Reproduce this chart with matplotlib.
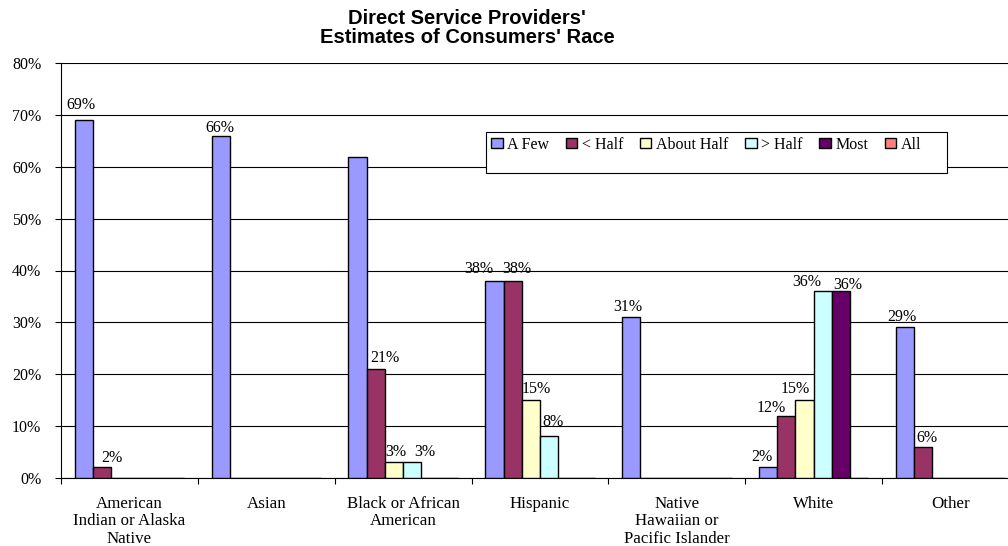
import numpy as np
import matplotlib
matplotlib.use("Agg")
import matplotlib.pyplot as plt
from matplotlib.patches import Rectangle, Patch
from matplotlib.ticker import FixedLocator, PercentFormatter

# ---- data -------------------------------------------------------------------
categories = ["American\nIndian or Alaska\nNative", "Asian", "Black or African\nAmerican",
              "Hispanic", "Native\nHawaiian or\nPacific Islander", "White", "Other"]
series = ["A Few", "< Half", "About Half", "> Half", "Most", "All"]

a_few      = [69, 66, 62, 38, 31, 2, 29]
lt_half    = [2, 0, 21, 38, 0, 12, 6]
about_half = [0, 0, 3, 15, 0, 15, 0]
gt_half    = [0, 0, 3, 8, 0, 36, 0]
most       = [0, 0, 0, 0, 0, 36, 0]
all_       = [0, 0, 0, 0, 0, 0, 0]
values = [a_few, lt_half, about_half, gt_half, most, all_]

colors = ["#9999FF", "#993366", "#FFFFCC", "#CCFFFF", "#660066", "#FF8080"]

# labels that are left off the chart
hidden = {(2, 0)}
# (dx, gap) in pixels for individual value labels, default (0, 6)
label_nudge = {
    (0, 0): (-3, 11), (0, 1): (10, 5), (1, 0): (-1, 4),
    (2, 1): (9, 7), (2, 2): (2, 6), (2, 3): (13, 6),
    (3, 0): (-16, 8), (3, 1): (4, 8), (3, 2): (5, 7), (3, 3): (4, 10),
    (4, 0): (-3, 6),
    (5, 0): (-6, 6), (5, 1): (-15, 4), (5, 2): (-9, 7), (5, 3): (-16, 5), (5, 4): (7, 2),
    (6, 0): (-3, 6), (6, 1): (4, 5),
}

# ---- figure -----------------------------------------------------------------
serif = ["Liberation Serif", "DejaVu Serif"]
plt.rcParams["font.family"] = serif
W, H = 1008, 546
fig = plt.figure(figsize=(W / 100, H / 100), dpi=100)
x0, x1, y0, y1 = 61, 1019, 477.7, 63.3
ax = fig.add_axes([x0 / W, 1 - y0 / H, (x1 - x0) / W, (y0 - y1) / H])

n = len(series)
bw = 0.8 / n
xs = np.arange(len(categories))
for j, (name, vals, c) in enumerate(zip(series, values, colors)):
    pos = xs - 0.4 + (j + 0.5) * bw
    ax.bar(pos, vals, width=bw, color=c, edgecolor="black", linewidth=1.0,
           zorder=3, label=name)
    for i, v in enumerate(vals):
        if v <= 0 or (i, j) in hidden:
            continue
        dx, gap = label_nudge.get((i, j), (0, 6))
        ax.annotate(f"{v}%", (pos[i], v), xytext=(dx * 0.72, gap * 0.72),
                    textcoords="offset points", ha="center", va="baseline",
                    fontsize=11.5, zorder=4)

ax.set_xlim(-0.5, len(categories) - 0.5)
ax.set_ylim(0, 80)
ax.yaxis.set_major_locator(FixedLocator(np.arange(0, 81, 10)))
ax.yaxis.set_major_formatter(PercentFormatter(decimals=0))
ax.grid(axis="y", color="black", linewidth=0.8, zorder=0)
ax.set_axisbelow(True)

ax.set_xticks(xs)
ax.set_xticklabels(categories, fontsize=12.2, linespacing=1.12)
ax.tick_params(axis="x", which="major", length=0, pad=13)
ax.set_xticks(np.arange(-0.5, len(categories), 1), minor=True)
ax.tick_params(axis="x", which="minor", length=4, width=0.8, direction="out")
ax.tick_params(axis="y", length=4.3, width=0.8, pad=10, labelsize=11.5)

for s in ["top", "right"]:
    ax.spines[s].set_visible(False)
ax.spines["left"].set_linewidth(0.8)
ax.spines["bottom"].set_linewidth(0.8)

# ---- legend -----------------------------------------------------------------
fig.patches.append(Rectangle((486 / W, 1 - 173 / H), (947 - 486) / W, (173 - 132) / H,
                             transform=fig.transFigure, facecolor="white",
                             edgecolor="black", linewidth=0.8, zorder=5))
handles = [Patch(facecolor=c, edgecolor="black", linewidth=1.0) for c in colors]
leg = fig.legend(handles, series, loc="upper left", bbox_to_anchor=(491 / W, 1 - 137 / H),
                 ncol=n, frameon=False, fontsize=11.5, handlelength=0.72,
                 handleheight=0.6, handletextpad=0.3, columnspacing=1.03,
                 borderpad=0, borderaxespad=0)
leg.set_zorder(6)

# ---- title ------------------------------------------------------------------
title_font = dict(ha="center", va="baseline", fontsize=14.5, fontweight="bold",
                  family=["Liberation Sans", "DejaVu Sans"])
fig.text(467 / W, 1 - 23.5 / H, "Direct Service Providers'", **title_font)
fig.text(467 / W, 1 - 43.5 / H, "Estimates of Consumers' Race", **title_font)

fig.savefig("out.png", dpi=100)
